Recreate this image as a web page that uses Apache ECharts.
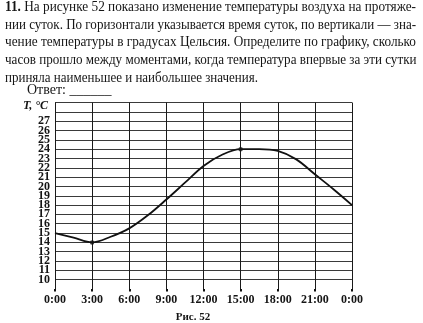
<!DOCTYPE html>
<html>
<head>
<meta charset="utf-8">
<script src="https://cdn.jsdelivr.net/npm/echarts@6/dist/echarts.min.js"></script>
<style>
html,body{margin:0;padding:0;background:#fff;}
#c{width:423px;height:323px;}
</style>
</head>
<body>
<div id="c"></div>
<script>
// ---- data ----
const hours = [0, 1.5, 3, 4.5, 6, 7.5, 9, 10.5, 12, 13.5, 15, 16.5, 18, 19.5, 21, 22.5, 24];
const temps = [15, 14.5, 14, 14.6, 15.5, 16.9, 18.6, 20.4, 22.2, 23.4, 24, 24.0, 23.8, 22.9, 21.3, 19.7, 18];
const markedHours = [3, 15];
const markedTemps = [14, 24];
const xTickLabels = ['0:00', '3:00', '6:00', '9:00', '12:00', '15:00', '18:00', '21:00', '0:00'];
const yLabelMin = 10, yLabelMax = 27;
const problemLines = [
  'На рисунке 52 показано изменение температуры воздуха на протяже-',
  'нии суток. По горизонтали указывается время суток, по вертикали — зна-',
  'чение температуры в градусах Цельсия. Определите по графику, сколько',
  'часов прошло между моментами, когда температура впервые за эти сутки',
  'приняла наименьшее и наибольшее значения.'
];
const problemNumber = '11.';
const answerText = 'Ответ: ______';
const axisNameText = 'T, °C';
const captionText = 'Рис. 52';

// ---- layout ----
const chart = echarts.init(document.getElementById('c'), null, {renderer: 'canvas'});
const serif = '"Liberation Serif", "DejaVu Serif", serif';
const ink = '#151515';

const cv = document.createElement('canvas').getContext('2d');
function measure(txt, font) { cv.font = font; return cv.measureText(txt).width; }

const bodyFont = '14px ' + serif;
const boldFont = 'bold 14px ' + serif;
const lineYs = [7.6, 25.2, 42.7, 60.3, 77.9];
const lineEnds = [416, 416, 416, 416.5, 258];
const lineStart = 5;

const graphics = [];
problemLines.forEach((t, i) => {
  let w, text;
  if (i === 0) {
    w = measure(problemNumber + ' ', boldFont) + measure(t, bodyFont);
    text = '{b|' + problemNumber + '} ' + t;
  } else {
    w = measure(t, bodyFont);
    text = t;
  }
  const sx = (lineEnds[i] - lineStart) / w;
  graphics.push({
    type: 'text', x: lineStart, y: lineYs[i], scaleX: sx,
    style: {
      text: text, x: 0, y: 0, fill: ink,
      font: bodyFont, verticalAlign: 'middle', align: 'left',
      rich: { b: { fontWeight: 'bold', fontSize: 14, fontFamily: serif, fill: ink } }
    }
  });
});
graphics.push({
  type: 'text', x: 27, y: 90.5,
  style: { text: answerText, font: '14px ' + serif, fill: ink, verticalAlign: 'middle' }
});
graphics.push({
  type: 'text', x: 23, y: 106,
  style: { text: axisNameText, font: 'italic bold 12px ' + serif, fill: ink, verticalAlign: 'middle' }
});
graphics.push({
  type: 'text', x: 193, y: 317,
  style: { text: captionText, font: 'bold 11px ' + serif, fill: ink, verticalAlign: 'middle', align: 'center' }
});

const option = {
  animation: false,
  backgroundColor: '#fff',
  grid: { left: 55, right: 71, top: 102.5, bottom: 34 },
  xAxis: {
    type: 'value', min: 0, max: 24, interval: 3,
    axisLine: { show: false },
    axisTick: { show: true, length: 2.5, lineStyle: { color: '#111', width: 2 } },
    axisLabel: {
      margin: 5, color: ink, fontFamily: serif, fontWeight: 'bold', fontSize: 12,
      formatter: v => xTickLabels[Math.round(v / 3)]
    },
    splitLine: { show: true, lineStyle: { color: '#1a1a1a', width: 1 } }
  },
  yAxis: {
    type: 'value', min: 9, max: 29, interval: 1,
    axisLine: { show: false },
    axisTick: { show: false },
    axisLabel: {
      margin: 5, color: ink, fontFamily: serif, fontWeight: 'bold', fontSize: 12,
      formatter: v => (v >= yLabelMin && v <= yLabelMax) ? String(v) : ''
    },
    splitLine: { show: true, showMinLine: false, lineStyle: { color: '#3a3a3a', width: 1 } }
  },
  series: [
    {
      type: 'line', smooth: 0.35, symbol: 'none',
      data: hours.map((h, i) => [h, temps[i]]),
      lineStyle: { color: '#111', width: 1.8 }
    },
    {
      type: 'scatter', symbolSize: 4.5,
      data: markedHours.map((h, i) => [h, markedTemps[i]]),
      itemStyle: { color: '#111' }
    }
  ],
  graphic: graphics
};
chart.setOption(option);
</script>
</body>
</html>
